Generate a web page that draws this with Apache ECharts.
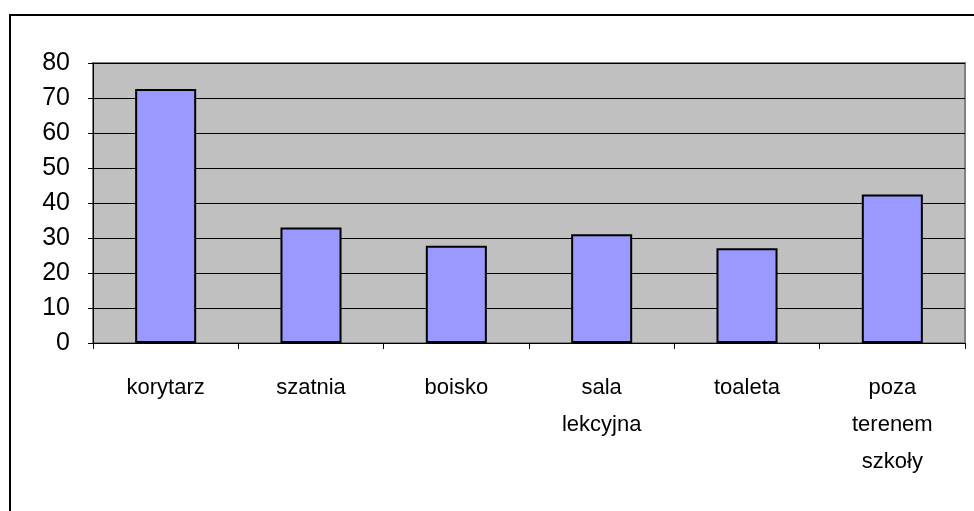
<!DOCTYPE html>
<html>
<head>
<meta charset="utf-8">
<script src="https://cdn.jsdelivr.net/npm/echarts@6/dist/echarts.min.js"></script>
<style>
  html, body { margin: 0; padding: 0; background: #fff; }
  #chart { width: 974px; height: 511px; }
</style>
</head>
<body>
<div id="chart"></div>
<script>
// miejsca (kategorie)
const categories = ['korytarz', 'szatnia', 'boisko', 'sala\nlekcyjna', 'toaleta', 'poza\nterenem\nszkoły'];
// wartości słupków
const values = [72.6, 33.0, 27.8, 31.1, 27.1, 42.4];
// etykiety osi Y
const yMin = 0;
const yMax = 80;
const yStep = 10;

const font = "'Liberation Sans', Arial, sans-serif";

const chart = echarts.init(document.getElementById('chart'));

const option = {
  backgroundColor: '#ffffff',
  animation: false,
  // ramka wykresu
  graphic: [{
    type: 'rect',
    shape: { x: 10, y: 15, width: 1000, height: 600 },
    style: { fill: 'none', stroke: '#000', lineWidth: 2 },
    z: 0
  }],
  grid: {
    left: 93,
    top: 63,
    right: 9,
    bottom: 168,
    show: true,
    backgroundColor: '#c0c0c0',
    borderColor: '#808080',
    borderWidth: 2
  },
  xAxis: {
    type: 'category',
    data: categories,
    axisLine: { show: true, lineStyle: { color: '#000', width: 1 } },
    axisTick: { show: true, length: 6, lineStyle: { color: '#000' } },
    axisLabel: {
      color: '#000',
      fontFamily: font,
      fontSize: 22,
      lineHeight: 37,
      margin: 26,
      interval: 0
    }
  },
  yAxis: {
    type: 'value',
    min: yMin,
    max: yMax,
    interval: yStep,
    axisLine: { show: true, lineStyle: { color: '#000', width: 1 } },
    axisTick: { show: true, length: 5, lineStyle: { color: '#000' } },
    splitLine: { show: true, lineStyle: { color: '#000', width: 1 } },
    axisLabel: {
      color: '#000',
      fontFamily: font,
      fontSize: 25,
      margin: 23
    }
  },
  series: [{
    type: 'bar',
    data: values,
    barWidth: '42%',
    itemStyle: {
      color: '#9999ff',
      borderColor: '#000',
      borderWidth: 2
    }
  }]
};

chart.setOption(option);
</script>
</body>
</html>
